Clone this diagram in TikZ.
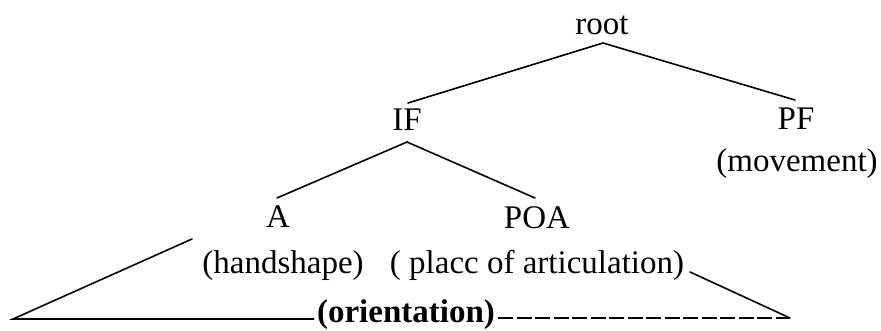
\documentclass[tikz,border=0pt]{standalone}
\usepackage{fontspec}
\setmainfont{Liberation Serif}
\begin{document}
\begin{tikzpicture}[x=1pt,y=-1pt,
  lbl/.style={font=\fontsize{33}{40}\selectfont, inner sep=2pt, anchor=base},
  boldlbl/.style={font=\fontsize{33}{40}\selectfont\bfseries, inner sep=3pt, anchor=base},
  edge/.style={line width=1.6pt, line cap=round},
  dashedge/.style={line width=1.6pt, dash pattern=on 15pt off 3.5pt}]
\useasboundingbox (0,0) rectangle (881,331);
% nodes
\node[lbl] (root) at (602,35) {root};
\node[lbl] (IF) at (407,131) {IF};
\node[lbl] (PF) at (796,130) {PF};
\node[lbl] (mov) at (797,172) {(movement)};
\node[lbl] (A) at (278,228) {A};
\node[lbl] (POA) at (537,229) {POA};
\node[lbl] (hand) at (283,273) {(handshape)};
\node[lbl] (place) at (537,273) {( placc of articulation)};
\node[boldlbl] (ori) at (406,322) {(orientation)};
% attachment points
\coordinate (rootB) at (603,43);
\coordinate (IFt) at (408,103);
\coordinate (PFt) at (795,100);
\coordinate (IFb) at (407,142);
\coordinate (At) at (277,198);
\coordinate (POAt) at (535,198);
\coordinate (Lv) at (13,319);
\coordinate (Lt) at (192,239);
\coordinate (Rt) at (690,272);
\coordinate (Rv) at (790,318);
% connectors
\draw[edge] (IFt) -- (rootB) -- (PFt);
\draw[edge] (At) -- (IFb) -- (POAt);
\draw[edge] (Lt) -- (Lv) -- (Lv -| ori.west);
\draw[dashedge] (ori.east |- Rv) -- (Rv);
\draw[edge] (Rt) -- (Rv);
\end{tikzpicture}
\end{document}
